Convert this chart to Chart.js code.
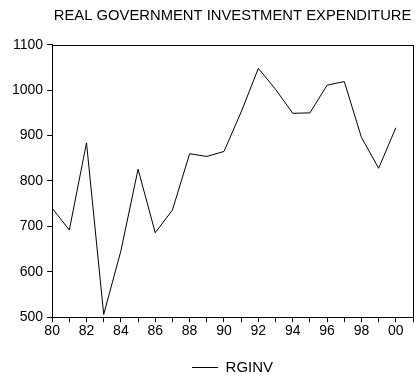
<!DOCTYPE html>
<html>
<head>
<meta charset="utf-8">
<script src="https://cdn.jsdelivr.net/npm/chart.js@4.4.0/dist/chart.umd.min.js"></script>
<style>
  html, body { margin: 0; padding: 0; background: #fff; }
  #wrap { width: 416px; height: 380px; }
</style>
</head>
<body>
<div id="wrap"><canvas id="chartRginv" width="416" height="380"></canvas></div>
<script>
// data
var years = [1980, 1981, 1982, 1983, 1984, 1985, 1986, 1987, 1988, 1989, 1990,
             1991, 1992, 1993, 1994, 1995, 1996, 1997, 1998, 1999, 2000];
var rginv = [740, 692, 884, 506, 646, 826, 686, 736, 860, 854, 865,
             952, 1048, 1002, 949, 950, 1011, 1019, 896, 828, 917];
var yTicks = [500, 600, 700, 800, 900, 1000, 1100];

var FONT = 'Arial, "Liberation Sans", sans-serif';

// plain black frame round the plot area
var framePlugin = {
    id: 'frame',
    afterDraw: function(chart) {
        var a = chart.chartArea, ctx = chart.ctx;
        ctx.save();
        ctx.strokeStyle = '#000';
        ctx.lineWidth = 1;
        ctx.strokeRect(Math.round(a.left) + 0.5, Math.round(a.top) + 0.5,
                       Math.round(a.right - a.left), Math.round(a.bottom - a.top));
        ctx.restore();
    }
};

new Chart(document.getElementById('chartRginv'), {
    type: 'line',
    data: {
        datasets: [{
            label: 'RGINV',
            data: years.map(function(y, i) { return { x: y, y: rginv[i] }; }),
            borderColor: '#000',
            backgroundColor: '#000',
            borderWidth: 1,
            pointRadius: 0,
            tension: 0,
            fill: false
        }]
    },
    options: {
        responsive: false,
        animation: false,
        layout: { padding: { left: 8, right: 3, top: 0, bottom: -5 } },
        plugins: {
            title: {
                display: true,
                fullSize: false,
                text: 'REAL GOVERNMENT INVESTMENT EXPENDITURE',
                color: '#000',
                font: { family: FONT, size: 14.8, weight: 'normal' },
                padding: { top: 7, bottom: 20 }
            },
            legend: {
                position: 'bottom',
                fullSize: false,
                labels: {
                    color: '#000',
                    font: { family: FONT, size: 15 },
                    usePointStyle: true,
                    pointStyle: 'line',
                    pointStyleWidth: 26,
                    padding: 19
                }
            },
            tooltip: { enabled: false }
        },
        scales: {
            x: {
                type: 'linear',
                min: 1980,
                max: 2001,
                afterBuildTicks: function(axis) {
                    var t = [];
                    for (var i = 0; i <= years.length; i++) t.push({ value: 1980 + i });
                    axis.ticks = t;
                },
                ticks: {
                    autoSkip: false,
                    maxRotation: 0,
                    color: '#000',
                    font: { family: FONT, size: 14 },
                    padding: 1,
                    callback: function(v) {
                        return v % 2 === 0 && v <= 2000 ? String(v).slice(2) : '';
                    }
                },
                grid: { drawOnChartArea: false, tickLength: 5, color: '#000' },
                border: { color: '#000' }
            },
            y: {
                min: 500,
                max: 1100,
                afterBuildTicks: function(axis) {
                    axis.ticks = yTicks.map(function(v) { return { value: v }; });
                },
                ticks: {
                    color: '#000',
                    font: { family: FONT, size: 14 },
                    padding: 4,
                    callback: function(v) { return String(v); }
                },
                grid: { drawOnChartArea: false, tickLength: 5, color: '#000' },
                border: { color: '#000' }
            }
        }
    },
    plugins: [framePlugin]
});
</script>
</body>
</html>
